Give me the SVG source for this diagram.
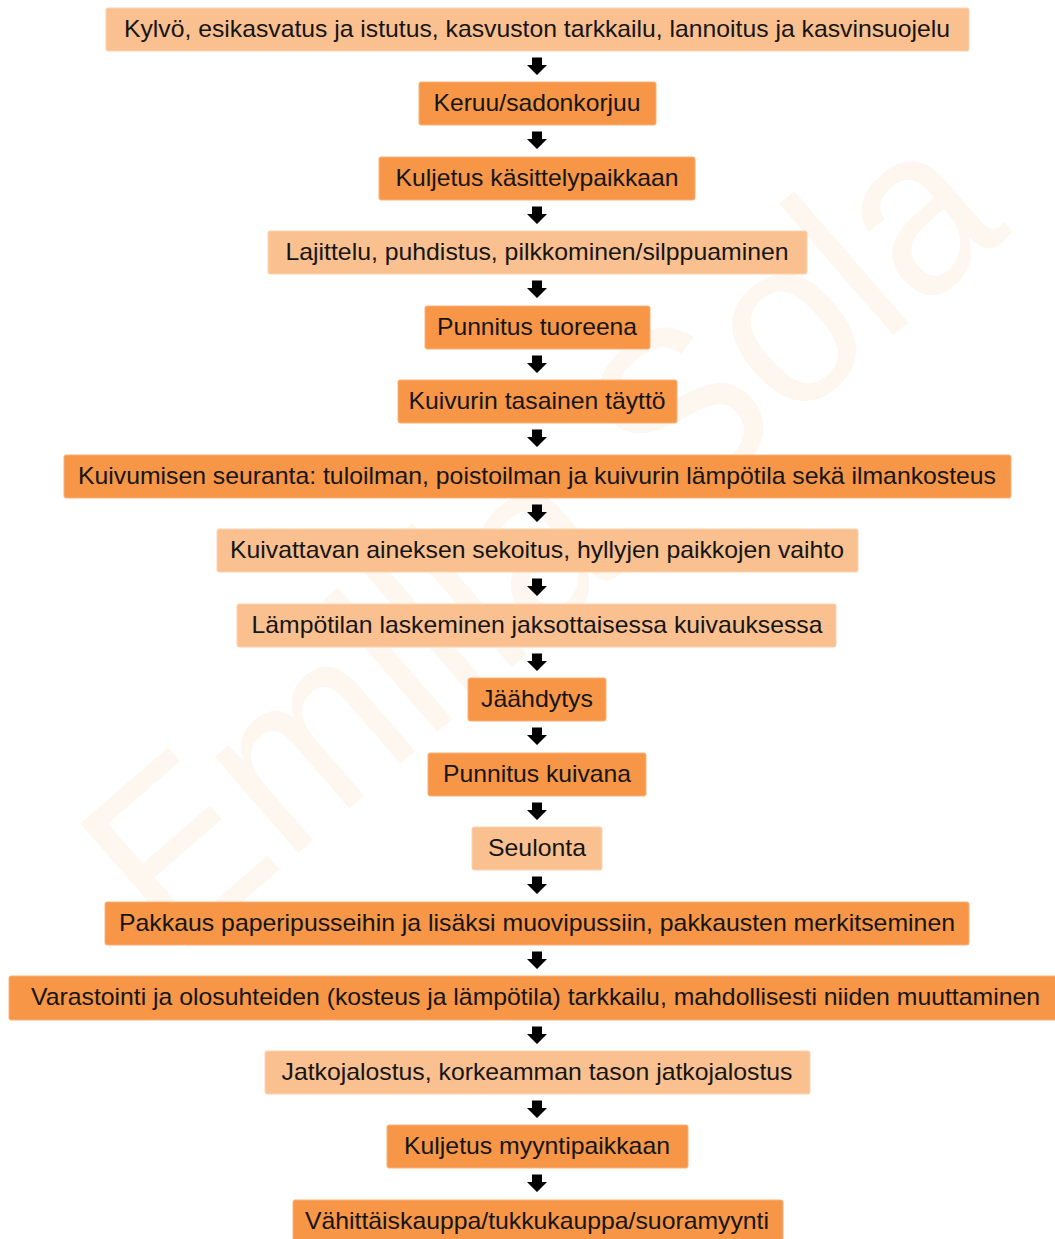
<svg xmlns="http://www.w3.org/2000/svg" xmlns:xlink="http://www.w3.org/1999/xlink" width="1055" height="1239" viewBox="0 0 1055 1239">
<style>
.lt{fill:#FAC08F;stroke:#FCD3B0;stroke-width:1}
.dk{fill:#F79646;stroke:#F9B27A;stroke-width:1}
.t{font-family:"Liberation Sans",Arial,sans-serif;font-size:24px;fill:#151515;text-anchor:middle}
.wm{font-family:"Liberation Sans",Arial,sans-serif;font-size:240px;fill:#FEF7F0}
</style>
<defs>
<path id="arr" d="M532 0 h10 v7.5 h5 l-10 10 l-10 -10 h5 z" fill="#000"/>
</defs>
<rect width="1055" height="1239" fill="#fff"/>
<text class="wm" transform="translate(175 960) rotate(-41)" textLength="1110" lengthAdjust="spacingAndGlyphs">Emilia Sola</text>
<g id="connectors">
<use xlink:href="#arr" y="57.5"/>
<use xlink:href="#arr" y="131.5"/>
<use xlink:href="#arr" y="206.5"/>
<use xlink:href="#arr" y="280.5"/>
<use xlink:href="#arr" y="355.5"/>
<use xlink:href="#arr" y="429.5"/>
<use xlink:href="#arr" y="504.5"/>
<use xlink:href="#arr" y="578.5"/>
<use xlink:href="#arr" y="653.5"/>
<use xlink:href="#arr" y="727.5"/>
<use xlink:href="#arr" y="802.5"/>
<use xlink:href="#arr" y="876.5"/>
<use xlink:href="#arr" y="951.5"/>
<use xlink:href="#arr" y="1026.5"/>
<use xlink:href="#arr" y="1100.5"/>
<use xlink:href="#arr" y="1174.5"/>
</g>
<g id="n1"><rect class="lt" x="106" y="8" width="863" height="43" rx="2"/><text class="t" x="537" y="37" textLength="826" lengthAdjust="spacingAndGlyphs">Kylvö, esikasvatus ja istutus, kasvuston tarkkailu, lannoitus ja kasvinsuojelu</text></g>
<g id="n2"><rect class="dk" x="419" y="82" width="237" height="43" rx="2"/><text class="t" x="537" y="111" textLength="207" lengthAdjust="spacingAndGlyphs">Keruu/sadonkorjuu</text></g>
<g id="n3"><rect class="dk" x="379" y="157" width="316" height="43" rx="2"/><text class="t" x="537" y="186" textLength="283" lengthAdjust="spacingAndGlyphs">Kuljetus käsittelypaikkaan</text></g>
<g id="n4"><rect class="lt" x="268" y="231" width="539" height="43" rx="2"/><text class="t" x="537" y="260" textLength="503" lengthAdjust="spacingAndGlyphs">Lajittelu, puhdistus, pilkkominen/silppuaminen</text></g>
<g id="n5"><rect class="dk" x="425" y="306" width="225" height="43" rx="2"/><text class="t" x="537" y="335" textLength="200" lengthAdjust="spacingAndGlyphs">Punnitus tuoreena</text></g>
<g id="n6"><rect class="dk" x="398" y="380" width="279" height="43" rx="2"/><text class="t" x="537" y="409" textLength="257" lengthAdjust="spacingAndGlyphs">Kuivurin tasainen täyttö</text></g>
<g id="n7"><rect class="dk" x="64" y="455" width="947" height="43" rx="2"/><text class="t" x="537" y="484" textLength="918" lengthAdjust="spacingAndGlyphs">Kuivumisen seuranta: tuloilman, poistoilman ja kuivurin lämpötila sekä ilmankosteus</text></g>
<g id="n8"><rect class="lt" x="217" y="529" width="641" height="43" rx="2"/><text class="t" x="537" y="558" textLength="614" lengthAdjust="spacingAndGlyphs">Kuivattavan aineksen sekoitus, hyllyjen paikkojen vaihto</text></g>
<g id="n9"><rect class="lt" x="237" y="604" width="599" height="43" rx="2"/><text class="t" x="537" y="633" textLength="571" lengthAdjust="spacingAndGlyphs">Lämpötilan laskeminen jaksottaisessa kuivauksessa</text></g>
<g id="n10"><rect class="dk" x="468" y="678" width="138" height="43" rx="2"/><text class="t" x="537" y="707" textLength="112" lengthAdjust="spacingAndGlyphs">Jäähdytys</text></g>
<g id="n11"><rect class="dk" x="428" y="753" width="218" height="43" rx="2"/><text class="t" x="537" y="782" textLength="188" lengthAdjust="spacingAndGlyphs">Punnitus kuivana</text></g>
<g id="n12"><rect class="lt" x="472" y="827" width="130" height="43" rx="2"/><text class="t" x="537" y="856" textLength="98" lengthAdjust="spacingAndGlyphs">Seulonta</text></g>
<g id="n13"><rect class="dk" x="105" y="902" width="864" height="43" rx="2"/><text class="t" x="537" y="931" textLength="836" lengthAdjust="spacingAndGlyphs">Pakkaus paperipusseihin ja lisäksi muovipussiin, pakkausten merkitseminen</text></g>
<g id="n14"><rect class="dk" x="9" y="976" width="1052" height="44" rx="2"/><text class="t" x="535.5" y="1005" textLength="1009" lengthAdjust="spacingAndGlyphs">Varastointi ja olosuhteiden (kosteus ja lämpötila) tarkkailu, mahdollisesti niiden muuttaminen</text></g>
<g id="n15"><rect class="lt" x="265" y="1051" width="545" height="43" rx="2"/><text class="t" x="537" y="1080" textLength="511" lengthAdjust="spacingAndGlyphs">Jatkojalostus, korkeamman tason jatkojalostus</text></g>
<g id="n16"><rect class="dk" x="387" y="1125" width="301" height="43" rx="2"/><text class="t" x="537" y="1154" textLength="266" lengthAdjust="spacingAndGlyphs">Kuljetus myyntipaikkaan</text></g>
<g id="n17"><rect class="dk" x="293" y="1200" width="490" height="46" rx="2"/><text class="t" x="537" y="1229" textLength="464" lengthAdjust="spacingAndGlyphs">Vähittäiskauppa/tukkukauppa/suoramyynti</text></g>
</svg>
